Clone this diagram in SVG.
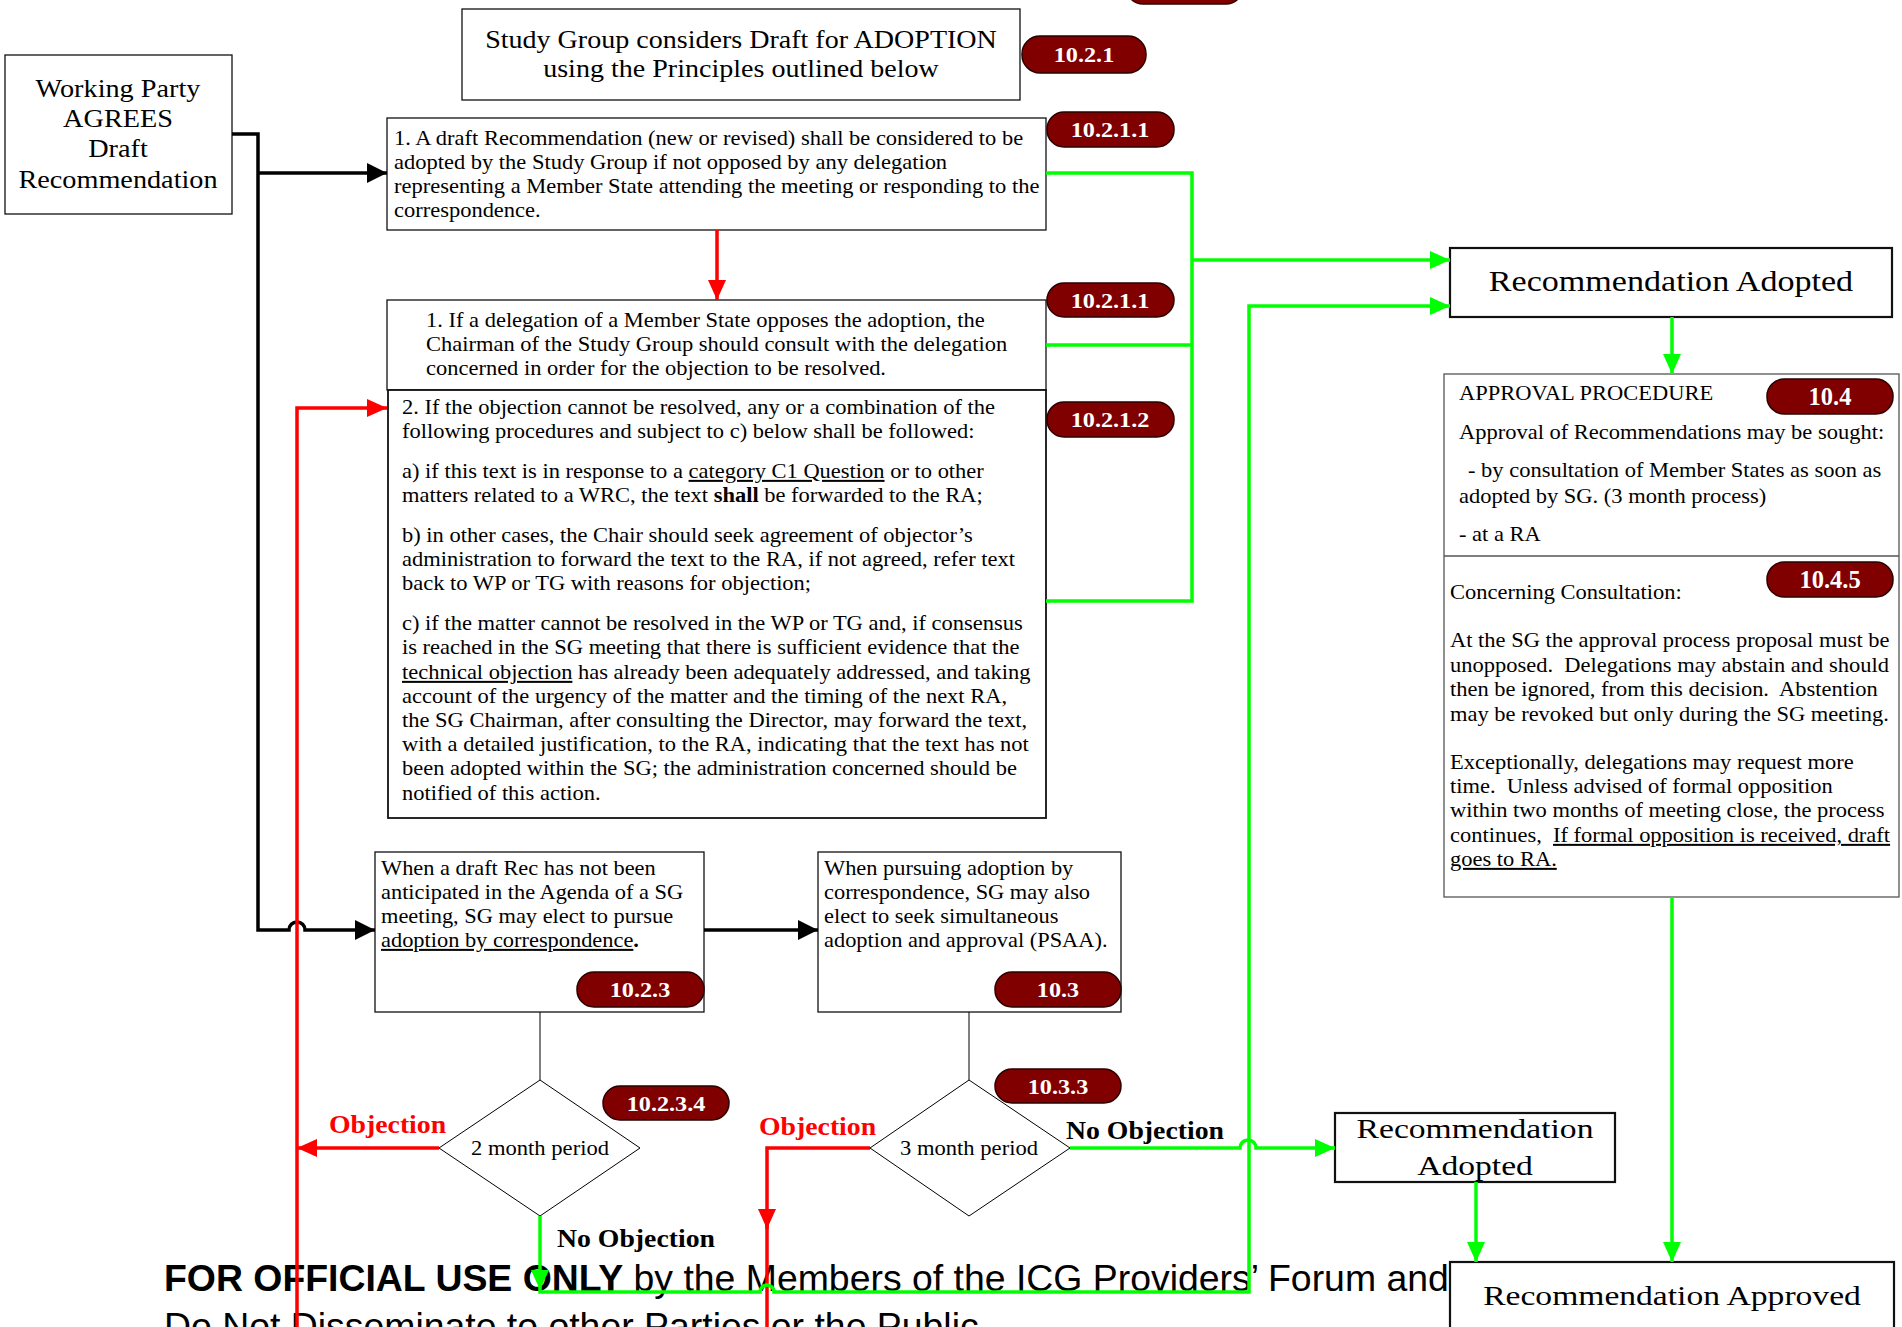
<svg xmlns="http://www.w3.org/2000/svg" width="1902" height="1327" viewBox="0 0 1902 1327">
<style>
.bx{fill:#fff;stroke:#111;stroke-width:1.3}
.bx2{fill:#fff;stroke:#111;stroke-width:2.2}
.t{font-family:"Liberation Serif","Times New Roman",serif;font-size:20px;fill:#000}
.pill{fill:#800000;stroke:#2a0000;stroke-width:1.5}
.pt{font-family:"Liberation Serif","Times New Roman",serif;font-size:22px;font-weight:bold;fill:#fff;text-anchor:middle}
.lb{font-family:"Liberation Serif","Times New Roman",serif;font-size:25px;font-weight:bold}
.k{fill:none;stroke:#000;stroke-width:3.5}
.r{fill:none;stroke:#ff0000;stroke-width:3.5}
.g{fill:none;stroke:#00ff00;stroke-width:3.5}
.thin{fill:none;stroke:#000;stroke-width:1}
.u{text-decoration:underline}
</style>
<defs>
<marker id="ak" markerUnits="userSpaceOnUse" markerWidth="22" markerHeight="22" refX="20" refY="10" orient="auto"><path d="M0,0 L20,10 L0,20 z" fill="#000"/></marker>
<marker id="ar" markerUnits="userSpaceOnUse" markerWidth="22" markerHeight="22" refX="20" refY="9" orient="auto"><path d="M0,0 L20,9 L0,18 z" fill="#ff0000"/></marker>
<marker id="ag" markerUnits="userSpaceOnUse" markerWidth="22" markerHeight="22" refX="20" refY="9" orient="auto"><path d="M0,0 L20,9 L0,18 z" fill="#00ff00"/></marker>
</defs>
<rect width="1902" height="1327" fill="#fff"/>

<g id="footer" font-family="'Liberation Sans',Arial,sans-serif" font-size="37.4" fill="#000">
<text x="164" y="1291"><tspan font-weight="bold">FOR OFFICIAL USE ONLY</tspan> by the Members of the ICG Providers’ Forum and</text>
<text x="164" y="1339">Do Not Disseminate to other Parties or the Public</text>
</g>

<g id="pill-top"><rect class="pill" x="1126" y="-31" width="117" height="35" rx="17"/></g>

<g id="wp">
<rect class="bx" x="5" y="55" width="227" height="159"/>
<text class="t" style="font-size:25px" text-anchor="middle" transform="translate(118,0) scale(1.13,1)"><tspan x="0" y="97">Working Party</tspan><tspan x="0" y="127">AGREES</tspan><tspan x="0" y="157">Draft</tspan><tspan x="0" y="188">Recommendation</tspan></text>
</g>

<g id="sg">
<rect class="bx" x="462" y="9" width="558" height="91"/>
<text class="t" style="font-size:25.5px" text-anchor="middle" transform="translate(741,0) scale(1.1,1)"><tspan x="0" y="48">Study Group considers Draft for ADOPTION</tspan><tspan x="0" y="77">using the Principles outlined below</tspan></text>
</g>
<g id="p1021"><rect class="pill" x="1022" y="36" width="124" height="37" rx="18"/><text class="pt" transform="translate(1084,0) scale(1.1,1)" x="0" y="62">10.2.1</text></g>

<g id="box1">
<rect class="bx" x="387" y="118" width="659" height="112"/>
<text class="t" transform="translate(394,0) scale(1.125,1)"><tspan x="0" y="145">1. A draft Recommendation (new or revised) shall be considered to be</tspan><tspan x="0" y="169">adopted by the Study Group if not opposed by any delegation</tspan><tspan x="0" y="193">representing a Member State attending the meeting or responding to the</tspan><tspan x="0" y="217">correspondence.</tspan></text>
</g>
<g id="p10211a"><rect class="pill" x="1047" y="112" width="127" height="35" rx="17"/><text class="pt" transform="translate(1110,0) scale(1.1,1)" x="0" y="137">10.2.1.1</text></g>

<g id="box2a">
<rect class="bx" x="387" y="300" width="659" height="90"/>
<text class="t" transform="translate(426,0) scale(1.125,1)"><tspan x="0" y="327">1. If a delegation of a Member State opposes the adoption, the</tspan><tspan x="0" y="351">Chairman of the Study Group should consult with the delegation</tspan><tspan x="0" y="375">concerned in order for the objection to be resolved.</tspan></text>
</g>
<g id="p10211b"><rect class="pill" x="1047" y="283" width="127" height="34" rx="17"/><text class="pt" transform="translate(1110,0) scale(1.1,1)" x="0" y="308">10.2.1.1</text></g>

<g id="box2b">
<rect class="bx" x="388" y="390" width="658" height="428" style="stroke-width:1.8"/>
<text class="t" transform="translate(402,0) scale(1.125,1)"><tspan x="0" y="414">2. If the objection cannot be resolved, any or a combination of the</tspan><tspan x="0" y="438">following procedures and subject to c) below shall be followed:</tspan><tspan x="0" y="478">a) if this text is in response to a </tspan><tspan class="u">category C1 Question</tspan><tspan> or to other</tspan><tspan x="0" y="502">matters related to a WRC, the text </tspan><tspan font-weight="bold">shall</tspan><tspan> be forwarded to the RA;</tspan><tspan x="0" y="542">b) in other cases, the Chair should seek agreement of objector’s</tspan><tspan x="0" y="566">administration to forward the text to the RA, if not agreed, refer text</tspan><tspan x="0" y="590">back to WP or TG with reasons for objection;</tspan><tspan x="0" y="630">c) if the matter cannot be resolved in the WP or TG and, if consensus</tspan><tspan x="0" y="654">is reached in the SG meeting that there is sufficient evidence that the</tspan><tspan x="0" y="679" class="u">technical objection</tspan><tspan> has already been adequately addressed, and taking</tspan><tspan x="0" y="703">account of the urgency of the matter and the timing of the next RA,</tspan><tspan x="0" y="727">the SG Chairman, after consulting the Director, may forward the text,</tspan><tspan x="0" y="751">with a detailed justification, to the RA, indicating that the text has not</tspan><tspan x="0" y="775">been adopted within the SG; the administration concerned should be</tspan><tspan x="0" y="800">notified of this action.</tspan></text>
</g>
<g id="p10212"><rect class="pill" x="1047" y="402" width="127" height="35" rx="17"/><text class="pt" transform="translate(1110,0) scale(1.1,1)" x="0" y="427">10.2.1.2</text></g>

<g id="adopted1">
<rect class="bx2" x="1450" y="248" width="442" height="69"/>
<text class="t" style="font-size:30px" text-anchor="middle" transform="translate(1671,0) scale(1.136,1)" x="0" y="291">Recommendation Adopted</text>
</g>

<g id="approval">
<rect class="bx" x="1444" y="374" width="455" height="523" style="stroke:#555"/>
<line x1="1444" y1="556" x2="1899" y2="556" stroke="#555" stroke-width="1.3"/>
<text class="t" transform="translate(1459,0) scale(1.125,1)"><tspan x="0" y="400">APPROVAL PROCEDURE</tspan><tspan x="0" y="439">Approval of Recommendations may be sought:</tspan><tspan x="8" y="477">- by consultation of Member States as soon as</tspan><tspan x="0" y="503">adopted by SG. (3 month process)</tspan><tspan x="0" y="541">- at a RA</tspan></text>
<text class="t" transform="translate(1450,0) scale(1.125,1)"><tspan x="0" y="599">Concerning Consultation:</tspan><tspan x="0" y="647">At the SG the approval process proposal must be</tspan><tspan x="0" y="672">unopposed.&#160; Delegations may abstain and should</tspan><tspan x="0" y="696">then be ignored, from this decision.&#160; Abstention</tspan><tspan x="0" y="721">may be revoked but only during the SG meeting.</tspan><tspan x="0" y="769">Exceptionally, delegations may request more</tspan><tspan x="0" y="793">time.&#160; Unless advised of formal opposition</tspan><tspan x="0" y="817">within two months of meeting close, the process</tspan><tspan x="0" y="842">continues,&#160; </tspan><tspan class="u">If formal opposition is received, draft</tspan><tspan x="0" y="866" class="u">goes to RA.</tspan></text>
</g>
<g id="p104"><rect class="pill" x="1767" y="379" width="126" height="35" rx="17"/><text class="pt" style="font-size:24.5px" x="1830" y="405">10.4</text></g>
<g id="p1045"><rect class="pill" x="1767" y="562" width="126" height="35" rx="17"/><text class="pt" style="font-size:24.5px" x="1830" y="588">10.4.5</text></g>

<g id="box1023">
<rect class="bx" x="375" y="852" width="329" height="160"/>
<text class="t" transform="translate(381,0) scale(1.12,1)"><tspan x="0" y="875">When a draft Rec has not been</tspan><tspan x="0" y="899">anticipated in the Agenda of a SG</tspan><tspan x="0" y="923">meeting, SG may elect to pursue</tspan><tspan x="0" y="947" class="u">adoption by correspondence</tspan><tspan font-weight="bold">.</tspan></text>
</g>
<g id="p1023"><rect class="pill" x="577" y="972" width="127" height="35" rx="17"/><text class="pt" transform="translate(640,0) scale(1.1,1)" x="0" y="997">10.2.3</text></g>

<g id="box103">
<rect class="bx" x="818" y="852" width="303" height="160"/>
<text class="t" transform="translate(824,0) scale(1.12,1)"><tspan x="0" y="875">When pursuing adoption by</tspan><tspan x="0" y="899">correspondence, SG may also</tspan><tspan x="0" y="923">elect to seek simultaneous</tspan><tspan x="0" y="947">adoption and approval (PSAA).</tspan></text>
</g>
<g id="p103"><rect class="pill" x="995" y="972" width="126" height="35" rx="17"/><text class="pt" transform="translate(1058,0) scale(1.1,1)" x="0" y="997">10.3</text></g>

<g id="dia1">
<polygon points="540,1080 640,1148 540,1216 439,1148" fill="#fff" stroke="#000" stroke-width="1"/>
<text class="t" text-anchor="middle" transform="translate(540,0) scale(1.13,1)" x="0" y="1155">2 month period</text>
</g>
<g id="p10234"><rect class="pill" x="603" y="1086" width="126" height="34" rx="17"/><text class="pt" transform="translate(666,0) scale(1.1,1)" x="0" y="1111">10.2.3.4</text></g>

<g id="dia2">
<polygon points="969,1080 1070,1148 969,1216 870,1148" fill="#fff" stroke="#000" stroke-width="1"/>
<text class="t" text-anchor="middle" transform="translate(969,0) scale(1.13,1)" x="0" y="1155">3 month period</text>
</g>
<g id="p1033"><rect class="pill" x="995" y="1069" width="126" height="34" rx="17"/><text class="pt" transform="translate(1058,0) scale(1.1,1)" x="0" y="1094">10.3.3</text></g>

<g id="adopted2">
<rect class="bx2" x="1335" y="1113" width="280" height="69"/>
<text class="t" style="font-size:28px" text-anchor="middle" transform="translate(1475,0) scale(1.2,1)"><tspan x="0" y="1138">Recommendation</tspan><tspan x="0" y="1175">Adopted</tspan></text>
</g>

<g id="approved">
<rect class="bx2" x="1450" y="1262" width="444" height="80"/>
<text class="t" style="font-size:28px" text-anchor="middle" transform="translate(1672,0) scale(1.2,1)" x="0" y="1305">Recommendation Approved</text>
</g>

<g id="connectors">
<path class="k" d="M232,134 H258 V930 H289 A8,8 0 0 1 305,930 H375" marker-end="url(#ak)"/>
<path class="k" d="M258,173 H387" marker-end="url(#ak)"/>
<path class="k" d="M704,930 H818" marker-end="url(#ak)"/>
<path class="thin" d="M540,1012 V1080"/>
<path class="thin" d="M969,1012 V1080"/>
<path class="r" d="M717,230 V300" marker-end="url(#ar)"/>
<path class="r" d="M297,1327 V408 H387" marker-end="url(#ar)"/>
<path class="r" d="M439,1148 H297" marker-end="url(#ar)"/>
<path class="r" d="M870,1148 H767 V1229" marker-end="url(#ar)"/>
<path class="r" d="M767,1225 V1327"/>
<path class="g" d="M1046,173 H1192 V601 H1046"/>
<path class="g" d="M1046,345 H1192"/>
<path class="g" d="M1192,260 H1450" marker-end="url(#ag)"/>
<path class="g" d="M540,1216 V1292 H760 A7,7 0 0 1 774,1292 H1249 V306 H1450" marker-end="url(#ag)"/>
<polygon points="531,1270 549,1270 540,1290" fill="#00ff00"/>
<path class="g" d="M1070,1148 H1240 A8,8 0 0 1 1256,1148 H1335" marker-end="url(#ag)"/>
<path class="g" d="M1672,317 V374" marker-end="url(#ag)"/>
<path class="g" d="M1476,1182 V1262" marker-end="url(#ag)"/>
<path class="g" d="M1672,897 V1262" marker-end="url(#ag)"/>
</g>

<g id="labels">
<text class="lb" fill="#ff0000" transform="translate(329,0) scale(1.11,1)" x="0" y="1133">Objection</text>
<text class="lb" fill="#ff0000" transform="translate(759,0) scale(1.11,1)" x="0" y="1135">Objection</text>
<text class="lb" fill="#000" transform="translate(557,0) scale(1.11,1)" x="0" y="1247">No Objection</text>
<text class="lb" fill="#000" transform="translate(1066,0) scale(1.11,1)" x="0" y="1139">No Objection</text>
</g>
</svg>
